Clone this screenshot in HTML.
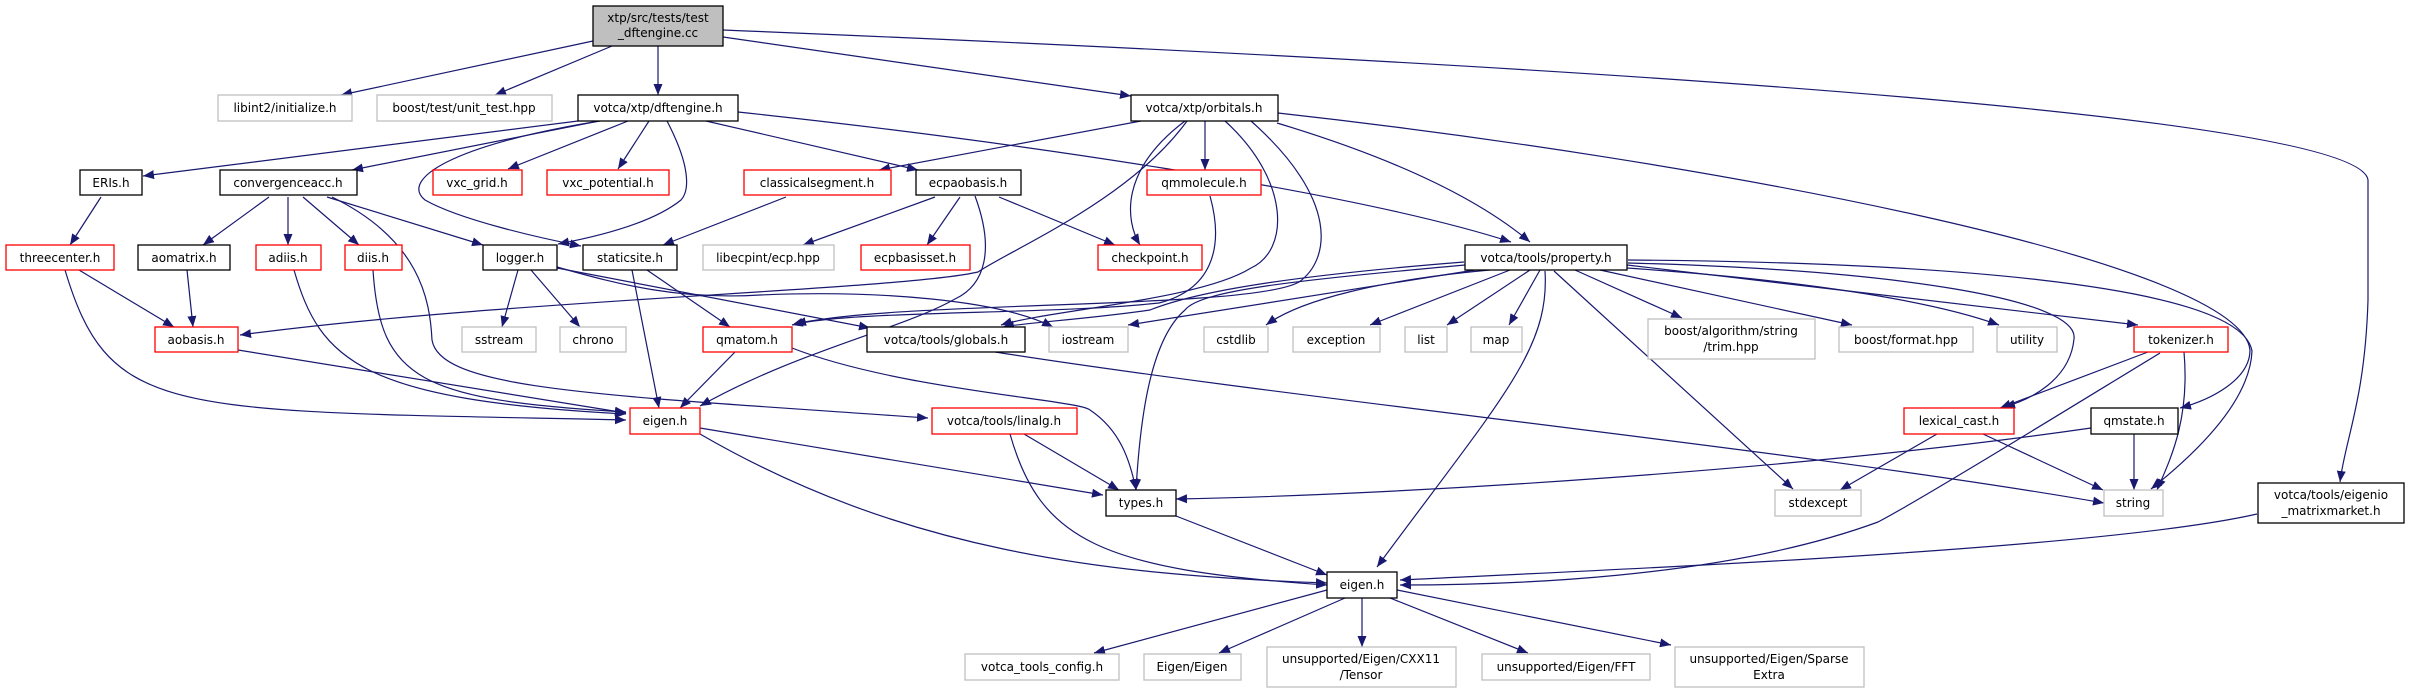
<!DOCTYPE html>
<html><head><meta charset="utf-8"><style>
html,body{margin:0;padding:0;background:#fff;}
svg{display:block;}
text{font-family:"DejaVu Sans","Liberation Sans",sans-serif;font-size:12px;fill:#000;text-anchor:middle;}
.e{fill:none;stroke:#191970;stroke-width:1.2;marker-end:url(#a);}
.b{fill:#fff;stroke:#000;stroke-width:1.3;}
.r{fill:#fff;stroke:#ff0000;stroke-width:1.3;}
.g{fill:#fff;stroke:#bfbfbf;stroke-width:1.3;}
</style></head><body>
<svg width="2410" height="693" viewBox="0 0 2410 693" xmlns="http://www.w3.org/2000/svg">
<defs><marker id="a" markerUnits="userSpaceOnUse" markerWidth="12" markerHeight="10" refX="11" refY="4.5" orient="auto"><path d="M0,0 L11,4.5 L0,9 Z" fill="#191970"/></marker></defs>
<g>
<path class="e" d="M593,41 L341,95"/>
<path class="e" d="M612,46 L495,95"/>
<path class="e" d="M658,46 L658,95"/>
<path class="e" d="M723,37 L1131,96"/>
<path class="e" d="M723,30 C1700,70 2360,120 2368,180 L2368,300 C2365,400 2345,440 2340,482"/>
<path class="e" d="M578,121 L143,176"/>
<path class="e" d="M599,121 L352,170"/>
<path class="e" d="M628,121 L508,169"/>
<path class="e" d="M649,121 L618,169"/>
<path class="e" d="M706,121 L918,170"/>
<path class="e" d="M667,121 C690,165 690,190 681,200 C650,225 590,238 558,244"/>
<path class="e" d="M600,121 C450,145 400,180 425,200 C460,220 540,238 581,246"/>
<path class="e" d="M738,112 C1000,140 1350,190 1511,242"/>
<path class="e" d="M269,197 L203,245"/>
<path class="e" d="M288,197 L288,245"/>
<path class="e" d="M303,197 L359,245"/>
<path class="e" d="M327,197 L483,245"/>
<path class="e" d="M332,197 C420,240 430,300 432,340 C440,390 600,395 928,418"/>
<path class="e" d="M101,197 L70,245"/>
<path class="e" d="M79,270 L174,327"/>
<path class="e" d="M65,270 C110,420 170,410 626,420"/>
<path class="e" d="M187,270 L193,327"/>
<path class="e" d="M294,270 C320,360 360,400 626,414"/>
<path class="e" d="M373,270 C380,380 420,400 626,412"/>
<path class="e" d="M238,350 L626,413"/>
<path class="e" d="M518,270 L502,327"/>
<path class="e" d="M531,270 L580,327"/>
<path class="e" d="M557,268 L870,328"/>
<path class="e" d="M557,267 C620,285 680,300 760,295 C880,290 1000,300 1053,327"/>
<path class="e" d="M647,270 L730,327"/>
<path class="e" d="M632,270 L659,408"/>
<path class="e" d="M786,197 L663,245"/>
<path class="e" d="M935,197 L803,245"/>
<path class="e" d="M960,197 L927,245"/>
<path class="e" d="M999,197 L1115,245"/>
<path class="e" d="M975,196 C995,250 985,285 955,299 C900,330 800,350 700,406"/>
<path class="e" d="M1210,196 C1225,250 1210,290 1159,303 C1050,315 850,310 792,325"/>
<path class="e" d="M735,352 L680,408"/>
<path class="e" d="M792,348 C900,390 1080,400 1090,410 C1120,430 1130,460 1136,490"/>
<path class="e" d="M995,352 C1300,400 1800,450 2104,503"/>
<path class="e" d="M1141,121 L879,170"/>
<path class="e" d="M1205,121 L1205,170"/>
<path class="e" d="M1185,121 C1120,170 1125,220 1140,245"/>
<path class="e" d="M1187,121 C1130,200 1010,250 978,272 C900,290 500,300 240,335"/>
<path class="e" d="M1225,121 C1290,180 1290,250 1251,268 C1200,300 1050,310 1001,325"/>
<path class="e" d="M1251,121 C1340,200 1330,260 1299,282 C1250,310 900,300 795,324"/>
<path class="e" d="M1277,123 C1400,160 1480,200 1530,242"/>
<path class="e" d="M1278,113 C1700,160 2240,260 2250,350 C2250,380 2210,400 2180,408"/>
<path class="e" d="M1464,262 C1300,275 1200,290 1150,310 C1080,320 1030,322 1003,327"/>
<path class="e" d="M1475,270 L1128,325"/>
<path class="e" d="M1490,270 C1380,280 1300,300 1266,325"/>
<path class="e" d="M1510,270 L1370,325"/>
<path class="e" d="M1530,270 L1447,325"/>
<path class="e" d="M1540,270 L1509,325"/>
<path class="e" d="M1575,270 L1682,318"/>
<path class="e" d="M1600,270 L1852,325"/>
<path class="e" d="M1627,268 C1800,280 1930,300 1999,325"/>
<path class="e" d="M1627,265 L2138,325"/>
<path class="e" d="M1628,263 C1900,270 2080,300 2074,339 C2070,380 2030,400 2004,407"/>
<path class="e" d="M1628,260 C1900,262 2240,280 2252,351 C2250,400 2200,450 2151,489"/>
<path class="e" d="M1554,271 L1793,489"/>
<path class="e" d="M1545,271 C1550,350 1500,400 1377,567"/>
<path class="e" d="M1465,265 C1300,280 1200,290 1185,310 C1150,340 1140,420 1136,490"/>
<path class="e" d="M2148,352 L2000,408"/>
<path class="e" d="M2160,353 C2050,420 1920,500 1878,522 C1720,580 1500,585 1400,585"/>
<path class="e" d="M2184,352 C2190,420 2170,460 2157,490"/>
<path class="e" d="M1937,434 L1840,490"/>
<path class="e" d="M1983,434 L2103,490"/>
<path class="e" d="M2134,434 L2134,490"/>
<path class="e" d="M2091,428 C1800,470 1400,495 1176,499"/>
<path class="e" d="M2257,514 C2100,550 1600,570 1400,580"/>
<path class="e" d="M1024,434 L1119,490"/>
<path class="e" d="M1010,434 C1040,540 1100,570 1327,585"/>
<path class="e" d="M700,428 L1103,495"/>
<path class="e" d="M700,434 C900,550 1100,575 1327,583"/>
<path class="e" d="M1176,516 L1327,575"/>
<path class="e" d="M1327,590 L1094,653"/>
<path class="e" d="M1345,598 L1219,653"/>
<path class="e" d="M1362,598 L1362,647"/>
<path class="e" d="M1390,598 L1528,653"/>
<path class="e" d="M1397,590 L1671,645"/>
</g>
<g>
<rect x="593" y="6" width="130" height="40" fill="#bfbfbf" stroke="#000" stroke-width="1.3"/>
<text x="658" y="22">xtp/src/tests/test</text><text x="658" y="37">_dftengine.cc</text>
<rect class="g" x="218" y="95" width="134" height="26"/><text x="285" y="112">libint2/initialize.h</text>
<rect class="g" x="377" y="95" width="175" height="26"/><text x="464" y="112">boost/test/unit_test.hpp</text>
<rect class="b" x="578" y="95" width="160" height="26"/><text x="658" y="112">votca/xtp/dftengine.h</text>
<rect class="b" x="1131" y="95" width="147" height="26"/><text x="1204" y="112">votca/xtp/orbitals.h</text>
<rect class="b" x="80" y="170" width="62" height="25"/><text x="111" y="187">ERIs.h</text>
<rect class="b" x="220" y="170" width="137" height="25"/><text x="288" y="187">convergenceacc.h</text>
<rect class="r" x="433" y="170" width="89" height="25"/><text x="477" y="187">vxc_grid.h</text>
<rect class="r" x="547" y="170" width="122" height="25"/><text x="608" y="187">vxc_potential.h</text>
<rect class="r" x="744" y="170" width="147" height="25"/><text x="817" y="187">classicalsegment.h</text>
<rect class="b" x="916" y="170" width="105" height="25"/><text x="968" y="187">ecpaobasis.h</text>
<rect class="r" x="1147" y="170" width="114" height="25"/><text x="1204" y="187">qmmolecule.h</text>
<rect class="r" x="6" y="245" width="108" height="25"/><text x="60" y="262">threecenter.h</text>
<rect class="b" x="138" y="245" width="92" height="25"/><text x="184" y="262">aomatrix.h</text>
<rect class="r" x="256" y="245" width="65" height="25"/><text x="288" y="262">adiis.h</text>
<rect class="r" x="345" y="245" width="57" height="25"/><text x="373" y="262">diis.h</text>
<rect class="b" x="483" y="245" width="74" height="25"/><text x="520" y="262">logger.h</text>
<rect class="b" x="583" y="245" width="94" height="25"/><text x="630" y="262">staticsite.h</text>
<rect class="g" x="703" y="245" width="131" height="25"/><text x="768" y="262">libecpint/ecp.hpp</text>
<rect class="r" x="861" y="245" width="109" height="25"/><text x="915" y="262">ecpbasisset.h</text>
<rect class="r" x="1098" y="245" width="104" height="25"/><text x="1150" y="262">checkpoint.h</text>
<rect class="b" x="1465" y="245" width="162" height="25"/><text x="1546" y="262">votca/tools/property.h</text>
<rect class="r" x="155" y="327" width="83" height="25"/><text x="196" y="344">aobasis.h</text>
<rect class="g" x="462" y="327" width="74" height="25"/><text x="499" y="344">sstream</text>
<rect class="g" x="560" y="327" width="66" height="25"/><text x="593" y="344">chrono</text>
<rect class="r" x="703" y="327" width="89" height="25"/><text x="747" y="344">qmatom.h</text>
<rect class="b" x="867" y="327" width="158" height="25"/><text x="946" y="344">votca/tools/globals.h</text>
<rect class="g" x="1049" y="327" width="79" height="25"/><text x="1088" y="344">iostream</text>
<rect class="g" x="1204" y="327" width="64" height="25"/><text x="1236" y="344">cstdlib</text>
<rect class="g" x="1293" y="327" width="87" height="25"/><text x="1336" y="344">exception</text>
<rect class="g" x="1405" y="327" width="42" height="25"/><text x="1426" y="344">list</text>
<rect class="g" x="1471" y="327" width="51" height="25"/><text x="1496" y="344">map</text>
<rect class="g" x="1648" y="319" width="167" height="40"/><text x="1731" y="335">boost/algorithm/string</text><text x="1731" y="351">/trim.hpp</text>
<rect class="g" x="1839" y="327" width="134" height="25"/><text x="1906" y="344">boost/format.hpp</text>
<rect class="g" x="1997" y="327" width="60" height="25"/><text x="2027" y="344">utility</text>
<rect class="r" x="2134" y="327" width="94" height="25"/><text x="2181" y="344">tokenizer.h</text>
<rect class="r" x="630" y="408" width="70" height="26"/><text x="665" y="425">eigen.h</text>
<rect class="r" x="932" y="408" width="145" height="26"/><text x="1004" y="425">votca/tools/linalg.h</text>
<rect class="r" x="1904" y="408" width="110" height="26"/><text x="1959" y="425">lexical_cast.h</text>
<rect class="b" x="2091" y="408" width="87" height="26"/><text x="2134" y="425">qmstate.h</text>
<rect class="b" x="1106" y="490" width="70" height="26"/><text x="1141" y="507">types.h</text>
<rect class="g" x="1775" y="490" width="86" height="26"/><text x="1818" y="507">stdexcept</text>
<rect class="g" x="2104" y="490" width="59" height="26"/><text x="2133" y="507">string</text>
<rect class="b" x="2258" y="483" width="146" height="40"/><text x="2331" y="499">votca/tools/eigenio</text><text x="2331" y="515">_matrixmarket.h</text>
<rect class="b" x="1327" y="572" width="70" height="26"/><text x="1362" y="589">eigen.h</text>
<rect class="g" x="965" y="654" width="154" height="26"/><text x="1042" y="671">votca_tools_config.h</text>
<rect class="g" x="1144" y="654" width="97" height="26"/><text x="1192" y="671">Eigen/Eigen</text>
<rect class="g" x="1267" y="647" width="189" height="40"/><text x="1361" y="663">unsupported/Eigen/CXX11</text><text x="1361" y="679">/Tensor</text>
<rect class="g" x="1482" y="654" width="168" height="26"/><text x="1566" y="671">unsupported/Eigen/FFT</text>
<rect class="g" x="1675" y="647" width="189" height="40"/><text x="1769" y="663">unsupported/Eigen/Sparse</text><text x="1769" y="679">Extra</text>
</g>
</svg>
</body></html>
